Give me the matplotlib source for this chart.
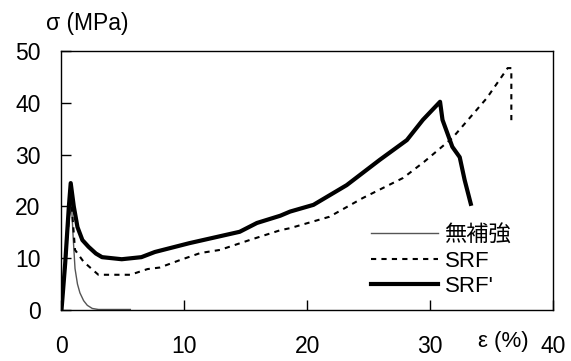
import matplotlib
matplotlib.use("Agg")
import matplotlib.pyplot as plt

plt.rcParams['font.family'] = ['Liberation Sans', 'Noto Sans CJK JP', 'DejaVu Sans']

# 無補強 (unreinforced)
eps_plain = [0, 0.3, 0.6, 0.8, 0.95, 1.1, 1.3, 1.5, 1.8, 2.1, 2.5, 3.0, 5.6]
sig_plain = [0, 8, 17, 21, 14, 8, 5, 3.3, 1.8, 0.9, 0.3, 0.1, 0.1]

# SRF
eps_srf = [0, 0.3, 0.6, 0.8, 1.1, 1.8, 3.0, 5.6, 7.0, 8.0, 9.6, 11.3, 12.9, 15.3,
           17.8, 18.6, 21.8, 24.5, 27.8, 29.5, 31.8, 34.6, 36.3, 36.6, 36.6]
sig_srf = [0, 8, 18, 21, 11.6, 9.3, 6.8, 6.8, 7.9, 8.2, 9.6, 11.0, 11.6, 13.5,
           15.4, 15.8, 18.0, 21.6, 25.5, 28.6, 33.2, 40.9, 46.7, 46.7, 35.7]

# SRF'
eps_srfp = [0, 0.3, 0.6, 0.75, 1.0, 1.3, 1.7, 2.2, 2.8, 3.3, 4.9, 6.5, 7.6, 10.4, 14.5, 15.9,
            17.8, 18.6, 20.5, 23.2, 25.9, 28.1, 29.4, 30.8, 31.0, 31.8, 32.4, 32.8, 33.3]
sig_srfp = [0, 9, 20, 24.5, 20, 16, 13.5, 12.2, 10.9, 10.2, 9.8, 10.2, 11.2, 12.9, 15.1, 16.8,
            18.2, 19.0, 20.3, 24.1, 29.0, 32.8, 36.7, 40.2, 36.7, 31.5, 29.5, 25.1, 20.5]

fig = plt.figure(figsize=(5.71, 3.61), dpi=100)
ax = fig.add_axes([0.1077, 0.1413, 0.861, 0.7174])

ax.plot(eps_plain, sig_plain, color='#555555', lw=1.0, label='無補強')
ax.plot(eps_srf, sig_srf, color='black', lw=1.5, linestyle=(0, (2.5, 2.5)), label='SRF')
ax.plot(eps_srfp, sig_srfp, color='black', lw=3.0, label="SRF'")

ax.set_xlim(0, 40)
ax.set_ylim(0, 50)
ax.set_xticks([0, 10, 20, 30, 40])
ax.set_yticks([0, 10, 20, 30, 40, 50])
ax.tick_params(direction='in', length=7, width=1, labelsize=16.5, top=False, right=False)
ax.tick_params(axis='x', pad=18)
ax.tick_params(axis='y', pad=15)
for s in ax.spines.values():
    s.set_linewidth(1.0)

fig.text(0.080, 0.935, 'σ (MPa)', fontsize=16.5, ha='left', va='center')
fig.text(0.882, 0.053, 'ε (%)', fontsize=16, ha='center', va='center')

leg = ax.legend(loc='lower left', bbox_to_anchor=(0.63, 0.05), frameon=False,
                fontsize=16, handlelength=3.0, handletextpad=0.3, labelspacing=0.2,
                borderaxespad=0, borderpad=0)

fig.savefig('out.png', dpi=100)
